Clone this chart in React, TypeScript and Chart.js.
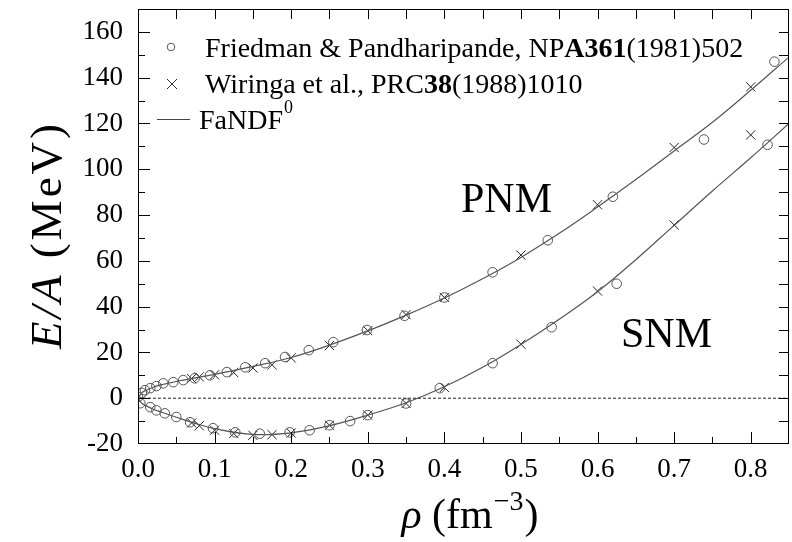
import React, { useEffect, useRef } from "react";
import { Chart, registerables } from "chart.js";

Chart.register(...registerables);

// ---- Data ----
const fpPnmRho = [0, 0.005, 0.009, 0.016, 0.024, 0.033, 0.046, 0.059, 0.074, 0.094, 0.116, 0.14, 0.166, 0.192, 0.223, 0.255, 0.299, 0.348, 0.4, 0.463, 0.535, 0.62, 0.739, 0.831];
const fpPnmE = [0.5, 2.3, 3.5, 4.4, 5.3, 6.5, 7.0, 7.9, 8.7, 10.0, 11.4, 13.5, 15.3, 18, 21, 24.5, 29.8, 36, 44, 55, 69, 88, 113, 147];

const fpSnmRho = [0.003, 0.016, 0.024, 0.035, 0.05, 0.068, 0.098, 0.127, 0.159, 0.198, 0.224, 0.25, 0.277, 0.3, 0.35, 0.394, 0.463, 0.54, 0.625, 0.822];
const fpSnmE = [-2.2, -3.9, -5.3, -6.6, -8.2, -10.5, -13.1, -14.9, -15.5, -14.9, -14, -11.8, -10, -7.4, -2.3, 4.4, 15.3, 31, 50, 110.7];

const wffRho = [0.07, 0.08, 0.1, 0.125, 0.15, 0.175, 0.2, 0.25, 0.3, 0.35, 0.4, 0.5, 0.6, 0.7, 0.8];
const wffPnmE = [8.6, 9.3, 10.2, 11.2, 13.2, 14.6, 17.6, 23, 29.5, 36.5, 44, 62.5, 84.5, 109.5, 136];
const wffSnmE = [-10.8, -12.0, -14, -15.4, -16.2, -15.9, -15.2, -11.8, -7.4, -2.3, 4.7, 23.6, 46.8, 75.7, 115];

const curveRho = [0, 0.005, 0.01, 0.02, 0.03, 0.05, 0.075, 0.1, 0.15, 0.2, 0.25, 0.3, 0.35, 0.4, 0.45, 0.5, 0.55, 0.6, 0.65, 0.7, 0.75, 0.8, 0.85];
const curvePnmE = [0, 2.4, 3.4, 4.8, 5.8, 7.3, 8.9, 10.4, 13.9, 17.8, 23.2, 29.4, 36.3, 43.8, 52.2, 61.5, 72, 83.5, 95.5, 108, 120.5, 134.5, 149];
const curveSnmE = [0, -2.2, -3.2, -4.8, -6, -8.3, -11, -13.3, -15.8, -15.1, -12, -7.4, -2, 5, 13.5, 23.5, 34.5, 46.5, 60.5, 75.5, 90.5, 105, 120];

const zeroRho = [0, 0.85];
const zeroE = [0, 0];

const xTicks = [0, 0.1, 0.2, 0.3, 0.4, 0.5, 0.6, 0.7, 0.8];
const yTicks = [-20, 0, 20, 40, 60, 80, 100, 120, 140, 160];

const SERIF = '"Liberation Serif", "Times New Roman", serif';

const AREA = { left: 138, top: 9, right: 789, bottom: 444 };

const pts = (xs: number[], ys: number[]) => xs.map((x, i) => ({ x, y: ys[i] }));

const fixAreaPlugin = {
  id: "fixArea",
  afterLayout(chart: any) {
    const ca = chart.chartArea;
    ca.left = AREA.left;
    ca.right = AREA.right;
    ca.top = AREA.top;
    ca.bottom = AREA.bottom;
    ca.width = AREA.right - AREA.left;
    ca.height = AREA.bottom - AREA.top;
    const xs = chart.scales.x;
    xs.left = AREA.left;
    xs.right = AREA.right;
    xs.width = AREA.right - AREA.left;
    xs.top = AREA.bottom;
    xs.bottom = chart.height;
    xs.height = chart.height - AREA.bottom;
    xs.configure();
    const ys = chart.scales.y;
    ys.left = 0;
    ys.right = AREA.left;
    ys.width = AREA.left;
    ys.top = AREA.top;
    ys.bottom = AREA.bottom;
    ys.height = AREA.bottom - AREA.top;
    ys.configure();
  },
};

const decorPlugin = {
  id: "decor",
  afterDraw(chart: any) {
    const ctx = chart.ctx as CanvasRenderingContext2D;
    const ca = chart.chartArea;
    const xs = chart.scales.x;
    const ys = chart.scales.y;
    ctx.save();
    // frame
    ctx.strokeStyle = "#000";
    ctx.lineWidth = 1;
    ctx.strokeRect(ca.left + 0.5, ca.top + 0.5, ca.right - ca.left - 1, ca.bottom - ca.top - 1);
    // x ticks
    ctx.beginPath();
    for (let i = 0; i <= 17; i++) {
      const v = i * 0.05;
      const px = Math.round(xs.getPixelForValue(v)) + 0.5;
      if (px > ca.right - 1) continue;
      const major = i % 2 === 0;
      ctx.moveTo(px, ca.bottom);
      ctx.lineTo(px, ca.bottom - (major ? 12 : 7));
      ctx.moveTo(px, ca.top);
      ctx.lineTo(px, ca.top + 10);
    }
    // y ticks
    for (let v = -20; v <= 170; v += 10) {
      const py = Math.round(ys.getPixelForValue(v)) + 0.5;
      if (py < ca.top + 1 || py > ca.bottom - 1) continue;
      const major = v % 20 === 0;
      ctx.moveTo(ca.left, py);
      ctx.lineTo(ca.left + (major ? 12 : 7), py);
      ctx.moveTo(ca.right, py);
      ctx.lineTo(ca.right - 10, py);
    }
    ctx.stroke();

    // Legend
    ctx.fillStyle = "#000";
    ctx.textBaseline = "alphabetic";
    ctx.textAlign = "left";
    const drawRuns = (x: number, y: number, runs: [string, boolean][]) => {
      let cx = x;
      for (const [t, b] of runs) {
        ctx.font = `${b ? "bold " : ""}28px ${SERIF}`;
        ctx.fillText(t, cx, y);
        cx += ctx.measureText(t).width;
      }
      return cx;
    };
    ctx.strokeStyle = "#555";
    ctx.beginPath();
    ctx.arc(171, 47, 3.8, 0, Math.PI * 2);
    ctx.stroke();
    drawRuns(205, 57, [["Friedman & Pandharipande, NP", false], ["A361", true], ["(1981)502", false]]);
    ctx.strokeStyle = "#333";
    ctx.beginPath();
    ctx.moveTo(167, 79);
    ctx.lineTo(177, 89);
    ctx.moveTo(177, 79);
    ctx.lineTo(167, 89);
    ctx.stroke();
    drawRuns(205, 93, [["Wiringa et al., PRC", false], ["38", true], ["(1988)1010", false]]);
    ctx.strokeStyle = "#444";
    ctx.beginPath();
    ctx.moveTo(157, 119.5);
    ctx.lineTo(190, 119.5);
    ctx.stroke();
    const endF = drawRuns(199, 129, [["FaNDF", false]]);
    ctx.font = `18px ${SERIF}`;
    ctx.fillText("0", endF + 1, 113);

    // PNM / SNM labels
    ctx.font = `42px ${SERIF}`;
    ctx.fillText("PNM", 461, 212);
    ctx.fillText("SNM", 621, 347);

    // x title: ρ (fm^-3)
    const mainF = `42px ${SERIF}`;
    const supF = `28px ${SERIF}`;
    ctx.font = `italic ${mainF}`;
    const w1 = ctx.measureText("ρ ").width;
    ctx.font = mainF;
    const w2 = ctx.measureText("(fm").width;
    const w4 = ctx.measureText(")").width;
    ctx.font = supF;
    const w3 = ctx.measureText("−3").width;
    const total = w1 + w2 + w3 + w4 + 2;
    let cx = 470 - total / 2;
    const by = 528;
    ctx.font = `italic ${mainF}`;
    ctx.fillText("ρ ", cx, by);
    cx += w1;
    ctx.font = mainF;
    ctx.fillText("(fm", cx, by);
    cx += w2 + 1;
    ctx.font = supF;
    ctx.fillText("−3", cx, by - 18);
    cx += w3 + 1;
    ctx.font = mainF;
    ctx.fillText(")", cx, by);

    // y title: E/A (MeV)
    ctx.save();
    ctx.translate(61, 235);
    ctx.rotate(-Math.PI / 2);
    const yf = `45px ${SERIF}`;
    (ctx as any).letterSpacing = "3px";
    ctx.font = `italic ${yf}`;
    const a1 = ctx.measureText("E/A").width;
    ctx.font = yf;
    const a2 = ctx.measureText(" (MeV)").width;
    const tw = a1 + a2;
    let tx = -tw / 2;
    ctx.font = `italic ${yf}`;
    ctx.fillText("E/A", tx, 0);
    tx += a1;
    ctx.font = yf;
    ctx.fillText(" (MeV)", tx, 0);
    ctx.restore();

    ctx.restore();
  },
};

export default function App() {
  const ref = useRef<HTMLCanvasElement | null>(null);
  useEffect(() => {
    if (!ref.current) return;
    const lineStyle = {
      borderColor: "#555",
      borderWidth: 1.2,
      pointRadius: 0,
      tension: 0.4,
      fill: false,
      showLine: true,
    };
    const chart = new Chart(ref.current, {
      type: "scatter",
      data: {
        datasets: [
          { label: "zero", data: pts(zeroRho, zeroE), showLine: true, borderColor: "#222", borderWidth: 1, borderDash: [3, 2], pointRadius: 0 },
          { label: "FaNDF PNM", data: pts(curveRho, curvePnmE), ...lineStyle },
          { label: "FaNDF SNM", data: pts(curveRho, curveSnmE), ...lineStyle },
          { label: "FP PNM", data: pts(fpPnmRho, fpPnmE), pointStyle: "circle", pointRadius: 4.8, borderColor: "#555", backgroundColor: "rgba(0,0,0,0)", borderWidth: 1, showLine: false },
          { label: "FP SNM", data: pts(fpSnmRho, fpSnmE), pointStyle: "circle", pointRadius: 4.8, borderColor: "#555", backgroundColor: "rgba(0,0,0,0)", borderWidth: 1, showLine: false },
          { label: "WFF PNM", data: pts(wffRho, wffPnmE), pointStyle: "crossRot", pointRadius: 6.5, borderColor: "#222", borderWidth: 1, showLine: false },
          { label: "WFF SNM", data: pts(wffRho, wffSnmE), pointStyle: "crossRot", pointRadius: 6.5, borderColor: "#222", borderWidth: 1, showLine: false },
        ],
      },
      options: {
        responsive: false,
        animation: false,
        layout: { padding: { top: 9, right: 3, left: 0, bottom: 0 } },
        plugins: { legend: { display: false }, tooltip: { enabled: false } },
        scales: {
          x: {
            type: "linear",
            min: 0,
            max: 0.85,
            grid: { display: false, drawTicks: false },
            border: { display: false },
            afterFit: (s: any) => {
              s.height = 98;
              s.paddingLeft = 0;
              s.paddingRight = 0;
              s.paddingTop = 0;
              s.paddingBottom = 0;
            },
            afterBuildTicks: (s: any) => { s.ticks = xTicks.map((v) => ({ value: v })); },
            ticks: {
              padding: 10,
              color: "#000",
              font: { family: SERIF, size: 27 },
              maxRotation: 0,
              autoSkip: false,
              callback: (v: any) => Number(v).toFixed(1),
            },
          },
          y: {
            type: "linear",
            min: -20,
            max: 170,
            grid: { display: false, drawTicks: false },
            border: { display: false },
            afterFit: (s: any) => {
              s.width = 138;
              s.paddingLeft = 0;
              s.paddingRight = 0;
              s.paddingTop = 0;
              s.paddingBottom = 0;
            },
            afterBuildTicks: (s: any) => { s.ticks = yTicks.map((v) => ({ value: v })); },
            ticks: {
              padding: 15,
              color: "#000",
              font: { family: SERIF, size: 27 },
              autoSkip: false,
              callback: (v: any) => String(v),
            },
          },
        },
      },
      plugins: [fixAreaPlugin, decorPlugin],
    });
    return () => chart.destroy();
  }, []);
  return (
    <div style={{ position: "fixed", left: 0, top: 0, width: 792, height: 542, background: "#fff" }}>
      <canvas ref={ref} width={792} height={542} style={{ display: "block" }} />
    </div>
  );
}
